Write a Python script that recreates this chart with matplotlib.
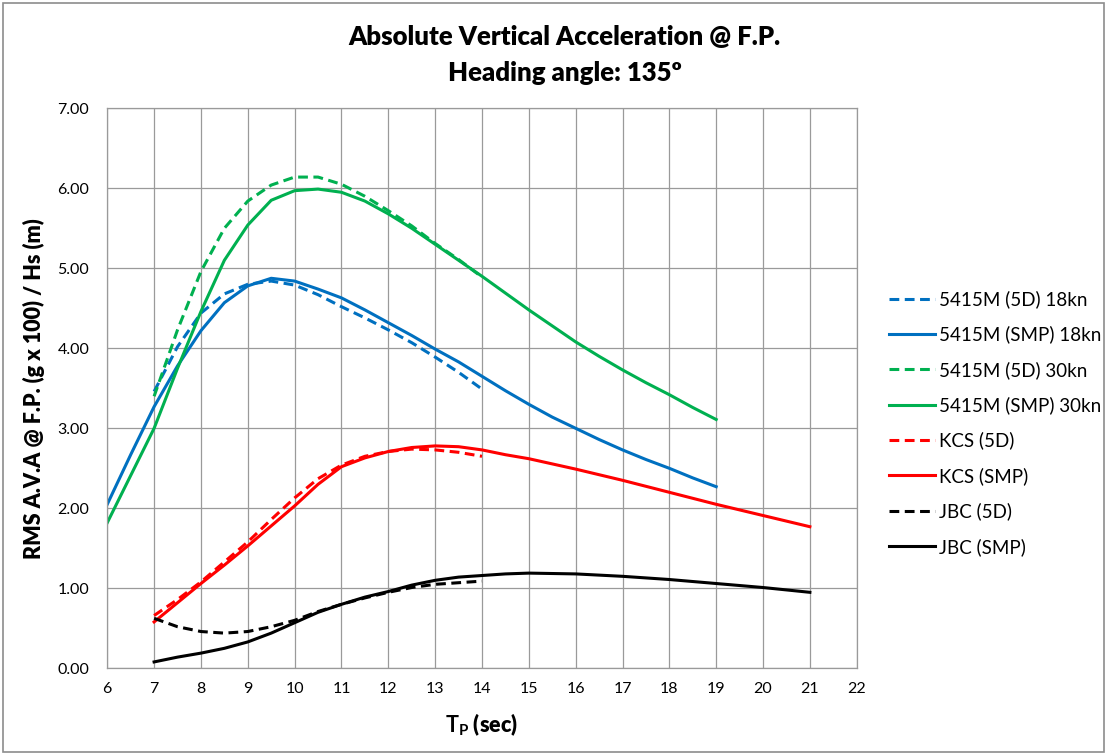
import matplotlib
matplotlib.use('Agg')
import matplotlib.pyplot as plt
from matplotlib.patches import Rectangle

plt.rcParams['font.family'] = ['Lato', 'DejaVu Sans']
plt.rcParams['mathtext.fontset'] = 'custom'
plt.rcParams['mathtext.bf'] = 'Lato:bold'
plt.rcParams['mathtext.rm'] = 'Lato'

# data (Tp in sec, RMS A.V.A @ F.P. / Hs)
tp_5d = [7, 7.5, 8, 8.5, 9, 9.5, 10, 10.5, 11, 11.5, 12, 12.5, 13, 13.5, 14]

m18_5d = [3.46, 4.02, 4.44, 4.68, 4.80, 4.84, 4.79, 4.67, 4.52, 4.38, 4.23, 4.07, 3.89, 3.70, 3.49]
tp_m_smp = [6, 6.5, 7, 7.5, 8, 8.5, 9, 9.5, 10, 10.5, 11, 11.5, 12, 12.5, 13, 13.5, 14,
            14.5, 15, 15.5, 16, 16.5, 17, 17.5, 18, 18.5, 19]
m18_smp = [2.05, 2.67, 3.27, 3.78, 4.22, 4.57, 4.78, 4.875, 4.84, 4.74, 4.63, 4.48, 4.32, 4.16,
           3.99, 3.83, 3.65, 3.47, 3.30, 3.14, 3.00, 2.86, 2.73, 2.61, 2.50, 2.38, 2.27]

m30_5d = [3.40, 4.23, 4.96, 5.50, 5.84, 6.04, 6.14, 6.14, 6.05, 5.90, 5.72, 5.53, 5.31, 5.11, 4.89]
m30_smp = [1.82, 2.41, 3.00, 3.75, 4.46, 5.10, 5.54, 5.85, 5.97, 5.99, 5.95, 5.84, 5.68, 5.50,
           5.30, 5.10, 4.90, 4.69, 4.48, 4.28, 4.08, 3.90, 3.73, 3.57, 3.42, 3.26, 3.11]

tp_long = [7, 7.5, 8, 8.5, 9, 9.5, 10, 10.5, 11, 11.5, 12, 12.5, 13, 13.5, 14, 14.5, 15,
           16, 17, 18, 19, 20, 21]
kcs_5d = [0.66, 0.86, 1.08, 1.33, 1.58, 1.86, 2.13, 2.37, 2.54, 2.65, 2.71, 2.74, 2.73, 2.70, 2.65]
kcs_smp = [0.58, 0.82, 1.06, 1.29, 1.53, 1.78, 2.03, 2.30, 2.52, 2.63, 2.71, 2.76, 2.78, 2.77,
           2.73, 2.67, 2.62, 2.49, 2.35, 2.20, 2.05, 1.91, 1.77]

jbc_5d = [0.625, 0.52, 0.46, 0.44, 0.46, 0.52, 0.60, 0.71, 0.80, 0.88, 0.95, 1.01, 1.05, 1.07, 1.09]
jbc_smp = [0.08, 0.14, 0.19, 0.25, 0.33, 0.44, 0.57, 0.70, 0.80, 0.89, 0.96, 1.04, 1.10, 1.14,
           1.16, 1.18, 1.19, 1.18, 1.15, 1.11, 1.06, 1.01, 0.95]

x_ticks = list(range(6, 23))
y_ticks = [0, 1, 2, 3, 4, 5, 6, 7]

blue, green, red, black = '#0070C0', '#00B050', '#FF0000', '#000000'
lw = 2.2
dash = (0, (3.2, 1.8))

fig = plt.figure(figsize=(11.07, 7.55), dpi=100)
ax = fig.add_axes([0.0969, 0.1148, 0.677, 0.7418])

ax.plot(tp_5d, m18_5d, color=blue, lw=lw, ls=dash, label='5415M (5D) 18kn')
ax.plot(tp_m_smp, m18_smp, color=blue, lw=lw, label='5415M (SMP) 18kn')
ax.plot(tp_5d, m30_5d, color=green, lw=lw, ls=dash, label='5415M (5D) 30kn')
ax.plot(tp_m_smp, m30_smp, color=green, lw=lw, label='5415M (SMP) 30kn')
ax.plot(tp_5d, kcs_5d, color=red, lw=lw, ls=dash, label='KCS (5D)')
ax.plot(tp_long, kcs_smp, color=red, lw=lw, label='KCS (SMP)')
ax.plot(tp_5d, jbc_5d, color=black, lw=lw, ls=dash, label='JBC (5D)')
ax.plot(tp_long, jbc_smp, color=black, lw=lw, label='JBC (SMP)')

ax.set_xlim(6, 22)
ax.set_ylim(0, 7)
ax.set_xticks(x_ticks)
ax.set_yticks(y_ticks)
ax.set_yticklabels([f'{v:.2f}' for v in y_ticks])
ax.tick_params(length=0, labelsize=11.5, pad=10)
ax.tick_params(axis='y', pad=13)
ax.grid(True, color='#9a9a9a', lw=0.9)
ax.set_axisbelow(True)
for s in ax.spines.values():
    s.set_color('#9a9a9a')
    s.set_linewidth(0.9)

ax.set_ylabel('RMS A.V.A @ F.P. (g x 100) / Hs (m)', fontsize=15.5, fontweight='heavy', labelpad=9)
ax.set_xlabel(r'$\mathbf{T_P}$ (sec)', fontsize=15.5, fontweight='heavy', labelpad=11)

fig.text(0.51, 0.951, 'Absolute Vertical Acceleration @ F.P.', ha='center', va='center',
         fontsize=18.5, fontweight='heavy')
fig.text(0.51, 0.903, 'Heading angle: 135º', ha='center', va='center',
         fontsize=18.5, fontweight='heavy')

ax.legend(loc='center left', bbox_to_anchor=(1.02, 0.438), frameon=False, fontsize=13.5,
          handlelength=2.5, labelspacing=0.93, handletextpad=0.2)

fig.patches.append(Rectangle((0.003, 0.004), 0.994, 0.992, transform=fig.transFigure,
                             fill=False, ec='#8c8c8c', lw=1.2))

fig.savefig('out.png', dpi=100)
